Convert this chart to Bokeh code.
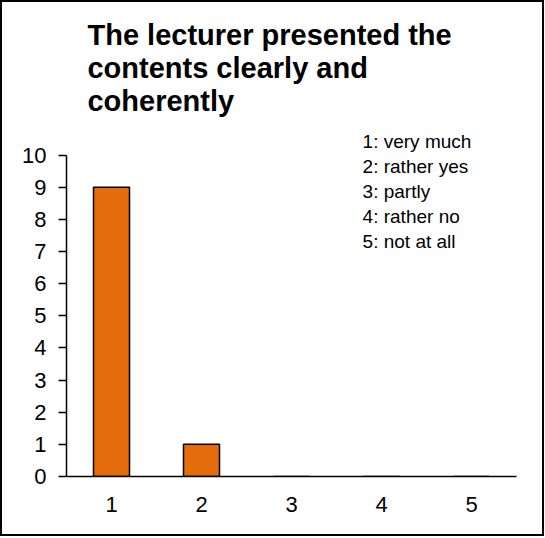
from bokeh.plotting import figure
from bokeh.models import Range1d, FixedTicker, Label
from bokeh.embed import file_html
from bokeh.resources import INLINE

# data
categories = ["1", "2", "3", "4", "5"]
counts = [9, 1, 0, 0, 0]
y_ticks = [0, 1, 2, 3, 4, 5, 6, 7, 8, 9, 10]
title_lines = ["The lecturer presented the", "contents clearly and", "coherently"]
legend_lines = ["1: very much", "2: rather yes", "3: partly", "4: rather no", "5: not at all"]

FONT = "Liberation Sans"
xs = list(range(1, len(categories) + 1))

p = figure(width=544, height=536, output_backend="svg", toolbar_location=None,
           x_range=Range1d(0.5, 5.5), y_range=Range1d(0, 14.75),
           min_border_left=64, min_border_right=30, min_border_top=0, min_border_bottom=62)
p.styles = {"border": "2px solid #000000"}

p.vbar(x=xs, top=counts, width=0.4, bottom=0, fill_color="#E46C0A",
       line_color="#000000", line_width=1.5)

p.grid.visible = False
p.outline_line_color = None
p.background_fill_color = "white"
p.border_fill_color = "white"

# y axis
p.yaxis.ticker = FixedTicker(ticks=y_ticks)
p.yaxis.bounds = (0, 10)
p.yaxis.minor_tick_line_color = None
p.yaxis.major_tick_in = 0
p.yaxis.major_tick_out = 8
p.yaxis.major_tick_line_width = 1.5
p.yaxis.axis_line_width = 1.5
p.yaxis.axis_line_color = "#000000"
p.yaxis.major_tick_line_color = "#000000"
p.yaxis.major_label_text_font = FONT
p.yaxis.major_label_text_font_size = "22px"
p.yaxis.major_label_text_color = "#000000"
p.yaxis.major_label_standoff = 12

# x axis
p.xaxis.ticker = FixedTicker(ticks=xs)
p.xaxis.major_label_overrides = {x: c for x, c in zip(xs, categories)}
p.xaxis.minor_tick_line_color = None
p.xaxis.major_tick_in = 0
p.xaxis.major_tick_out = 0
p.xaxis.axis_line_width = 1.5
p.xaxis.axis_line_color = "#000000"
p.xaxis.major_label_text_font = FONT
p.xaxis.major_label_text_font_size = "22px"
p.xaxis.major_label_text_color = "#000000"
p.xaxis.major_label_standoff = 20

# title lines
title_y0 = 13.75
title_step = 1.025
for i, t in enumerate(title_lines):
    p.add_layout(Label(x=0.733, y=title_y0 - i * title_step, text=t,
                       text_font=FONT, text_font_style="bold", text_font_size="29px",
                       text_color="#000000", text_baseline="alphabetic", text_align="left"))

# legend lines
leg_y0 = 10.41
leg_step = 0.775
for i, t in enumerate(legend_lines):
    p.add_layout(Label(x=3.79, y=leg_y0 - i * leg_step, text=t,
                       text_font=FONT, text_font_size="19px", text_color="#000000",
                       text_baseline="middle", text_align="left"))

open("out.html", "w").write(file_html(p, INLINE))
